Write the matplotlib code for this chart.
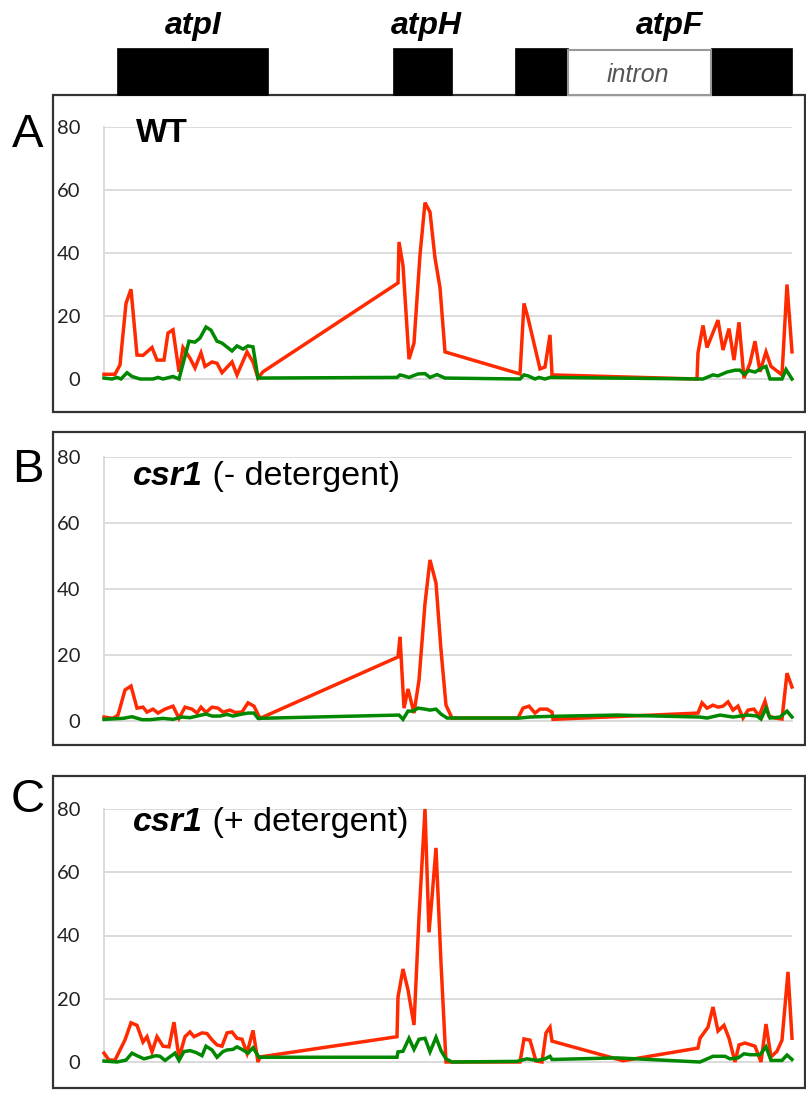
import matplotlib
matplotlib.use("Agg")
import matplotlib.pyplot as plt
from matplotlib.patches import Rectangle

# positions along the atpI-atpH-atpF region (arbitrary units)
genes = ["atpI", "atpH", "atpF"]
gene_label_pos = [89, 322, 566]
exons = [(13, 164), (289, 348), (411, 464), (607, 688)]
intron = (464, 607)

# panel A, WT
a_red_pos = [0, 11, 16, 22, 27, 33, 39, 48, 53, 60, 64, 69, 75, 79, 86, 91, 97, 101, 108, 113, 118, 128, 133,
             143, 149, 154, 159, 294, 295, 299, 305, 310, 316, 321, 326, 331, 336, 341, 416, 420, 424, 436, 441,
             446, 448, 593, 594, 599, 603, 614, 619, 625, 630, 635, 640, 646, 651, 656, 662, 667, 678, 683, 688]
a_red_val = [1.5, 1.5, 4.5, 24, 28.5, 7.6, 7.5, 10, 6, 6, 14.6, 15.6, 2.3, 10, 6.6, 3.5, 8.3, 4, 5.4, 5, 2, 5.4, 1.3,
             8.6, 5.4, 0.3, 2.3, 30.5, 43.5, 36, 6.3, 11.4, 39.4, 56, 53, 38.4, 29, 8.6, 1.6, 24, 19.4, 3.2, 3.8,
             14, 1.3, 0, 8.3, 17, 10, 18.7, 9.2, 16, 6, 18, 0.3, 5, 12, 2.3, 8.6, 4, 1.3, 30, 8.6]
a_grn_pos = [0, 8, 13, 17, 23, 28, 36, 49, 54, 59, 69, 75, 85, 91, 96, 102, 107, 113, 118, 128, 133, 139, 144, 149,
             154, 293, 296, 300, 305, 314, 321, 326, 333, 341, 416, 420, 424, 431, 435, 441, 446, 599, 609, 614,
             623, 631, 636, 640, 645, 651, 658, 662, 666, 678, 682, 688]
a_grn_val = [0.3, 0, 0.5, 0, 2, 0.8, 0, 0, 0.5, 0, 0.8, 0, 12, 11.7, 13, 16.5, 15.5, 12, 11.4, 8.9, 10.5, 9.5, 10.5,
             10.2, 0.3, 0.5, 1.3, 1, 0.5, 1.6, 1.7, 0.5, 1.4, 0.3, 0, 1.3, 1, 0, 0.5, 0, 0.5, 0, 1.3, 1, 2.2, 2.8,
             2.8, 1.5, 2.7, 2.2, 3.5, 4, 0, 0, 3, 0]

# panel B, csr1 without detergent
b_red_pos = [0, 9, 14, 21, 27, 33, 39, 43, 49, 54, 61, 69, 75, 81, 88, 93, 97, 102, 108, 114, 119, 126, 131, 138,
             144, 150, 156, 294, 296, 300, 304, 310, 315, 321, 326, 332, 337, 342, 348, 414, 419, 425, 431, 436,
             443, 448, 449, 594, 598, 603, 609, 614, 619, 624, 629, 634, 639, 644, 650, 655, 661, 665, 671, 678,
             683, 688]
b_red_val = [1.2, 0.8, 1.8, 9.4, 10.6, 3.9, 4.2, 2.7, 3.6, 2.4, 3.6, 4.5, 0.8, 4.2, 3.6, 2.4, 4.2, 2.6, 4.2, 3.9,
             2.7, 3.3, 2.6, 2.7, 5.5, 4.5, 0.8, 19.4, 25.5, 3.9, 9.7, 2.4, 12.4, 35.6, 48.8, 41.8, 21.5, 4.8, 0.9,
             0.9, 3.9, 4.5, 2.4, 3.6, 3.6, 2.7, 0.5, 2.4, 5.5, 3.9, 4.8, 4.2, 4.5, 5.8, 3.3, 4.5, 0.9, 3.3, 3.6,
             1.5, 6, 1.5, 0.9, 0.6, 14.5, 10.3]
b_grn_pos = [0, 19, 28, 38, 46, 59, 69, 78, 86, 93, 102, 108, 116, 123, 129, 138, 144, 150, 154, 295, 299, 304,
             309, 314, 321, 326, 332, 337, 343, 416, 426, 446, 513, 596, 603, 616, 629, 644, 653, 657, 662, 666,
             676, 683, 688]
b_grn_val = [0.5, 0.8, 1.3, 0.4, 0.4, 0.8, 0.5, 1.2, 1, 1.5, 2.1, 1.5, 1.5, 2, 1.5, 2.1, 2.4, 2.4, 0.8, 1.8, 0.5,
             3, 3, 3.9, 3.6, 3.3, 3.6, 2.1, 0.9, 0.9, 1.2, 1.4, 1.8, 1.2, 0.9, 1.8, 1.2, 1.8, 1.5, 0.6, 3.9, 0.9,
             1.2, 3, 1.2]

# panel C, csr1 with detergent
c_red_pos = [0, 5, 11, 21, 27, 33, 39, 43, 48, 53, 59, 65, 70, 75, 81, 86, 90, 98, 103, 108, 113, 118, 123, 128,
             133, 138, 143, 149, 154, 156, 293, 294, 299, 304, 310, 315, 321, 325, 328, 332, 337, 342, 416, 420,
             426, 432, 438, 442, 446, 448, 519, 594, 596, 604, 609, 614, 620, 625, 631, 635, 641, 651, 657, 662,
             667, 673, 678, 684, 688]
c_red_val = [2.8, 0.6, 0.6, 7, 12.4, 11.6, 6.3, 8, 3.2, 8, 5, 4.8, 12.6, 1.3, 8, 9.5, 8, 9.2, 9, 7, 5.4, 5, 9.2,
             9.5, 7.5, 7.2, 2.8, 10, 0, 1.6, 8, 20.5, 29.4, 22.8, 11.7, 45.8, 80, 41, 52, 67.7, 31.3, 0, 0, 7.3,
             6.9, 0.3, 0, 9.2, 11, 6.6, 0.4, 4.4, 7.5, 11, 17.4, 9.8, 11.6, 7.5, 0, 5.4, 6, 5, 0, 12, 1.6, 3.4,
             6.9, 28.5, 7.5]
c_grn_pos = [0, 13, 22, 28, 33, 40, 46, 52, 56, 61, 71, 75, 80, 86, 92, 98, 102, 108, 113, 119, 123, 129, 133,
             139, 144, 149, 155, 293, 294, 299, 305, 310, 315, 321, 326, 332, 337, 342, 348, 413, 423, 433, 441,
             446, 448, 513, 596, 609, 621, 626, 634, 640, 646, 656, 662, 667, 678, 683, 688]
c_grn_val = [0.3, 0, 0.6, 2.8, 2, 1, 1.5, 2, 1.8, 0.5, 2.8, 0.5, 3.3, 3.6, 3, 2, 5, 3.8, 1.5, 3.3, 3.8, 4, 4.8,
             3.8, 2.8, 4.5, 1.5, 1.5, 3.2, 3.4, 7.5, 4, 7.2, 7.5, 3.2, 7.8, 3.6, 1, 0, 0.2, 1, 0.5, 1, 1.8, 0.8,
             1.3, 0, 1.8, 1.8, 1, 1.3, 2.6, 2.3, 2.3, 4.8, 0.5, 0.5, 2.2, 0.8]

W, H = 806, 1093
RED = "#ff2a00"
GREEN = "#008800"
GRID = "#d9d9d9"


def px_axes(fig, left, top, right, bottom):
    return fig.add_axes([left / W, 1 - bottom / H, (right - left) / W, (bottom - top) / H])


plt.rcParams["font.family"] = ["Liberation Sans", "DejaVu Sans"]
fig = plt.figure(figsize=(W / 100, H / 100), dpi=100)

panels = [
    ("A", a_red_pos, a_red_val, a_grn_pos, a_grn_val, (95, 412), (127, 379), 135, 142),
    ("B", b_red_pos, b_red_val, b_grn_pos, b_grn_val, (432, 745), (457, 721), 470, 485),
    ("C", c_red_pos, c_red_val, c_grn_pos, c_grn_val, (776, 1088), (809, 1062), 800, 831),
]
titles = [("WT", None), ("csr1", " (- detergent)"), ("csr1", " (+ detergent)")]

for (letter, rx, ry, gx, gy, box, area, ly, ty), (t_bold, t_rest) in zip(panels, titles):
    fig.patches.append(Rectangle((53 / W, 1 - box[1] / H), (805 - 53) / W, (box[1] - box[0]) / H,
                                 transform=fig.transFigure, fill=False, ec="#333333", lw=1.6))
    ax = px_axes(fig, 104, area[0], 792, area[1])
    ax.plot(rx, ry, color=RED, lw=2.5, clip_on=False, zorder=3, solid_joinstyle="miter")
    ax.plot(gx, gy, color=GREEN, lw=2.5, clip_on=False, zorder=4, solid_joinstyle="miter")
    ax.set_xlim(0, 688)
    ax.set_ylim(0, 80)
    ax.set_yticks([0, 20, 40, 60, 80])
    ax.set_xticks([])
    ax.tick_params(axis="y", length=0, pad=17, labelsize=14.5, labelcolor="#222222")
    for lab in ax.get_yticklabels():
        lab.set_family(["Lato", "DejaVu Sans"])
    ax.grid(axis="y", color=GRID, lw=1.3)
    ax.set_axisbelow(True)
    for side in ["top", "right"]:
        ax.spines[side].set_visible(False)
    for side in ["left", "bottom"]:
        ax.spines[side].set_color(GRID)
        ax.spines[side].set_linewidth(1.3)
    fig.text(28 / W, 1 - ly / H, letter, ha="center", va="center", fontsize=34)
    if t_rest is None:
        fig.text(136 / W, 1 - ty / H, t_bold, fontsize=24, fontweight="bold", va="baseline")
    else:
        t1 = fig.text(133 / W, 1 - (ty + 7) / H, t_bold, fontsize=24.5, fontweight="bold",
                      style="italic", va="bottom")
        ax.annotate(t_rest, xy=(1, 0), xycoords=t1, fontsize=24.5, va="bottom", ha="left",
                    annotation_clip=False)

# gene map
gax = px_axes(fig, 104, 45, 792, 95)
gax.set_zorder(5)
gax.set_xlim(0, 688)
gax.set_ylim(0, 50)
gax.axis("off")
for start, end in exons:
    gax.add_patch(Rectangle((start, 0), end - start, 47, fc="black", ec="black", lw=0.5, clip_on=False))
gax.add_patch(Rectangle((intron[0], 0.5), intron[1] - intron[0], 44.5, fc="white", ec="#999999", lw=1.5,
                        clip_on=False))
gax.text((intron[0] + intron[1]) / 2 - 2, 20, "intron", ha="center", va="center", fontsize=18,
         style="italic", color="#555555")
for name, pos in zip(genes, gene_label_pos):
    gax.text(pos, 61, name, ha="center", va="baseline", fontsize=23, fontweight="bold", style="italic",
             clip_on=False)

fig.savefig("out.png", dpi=100)
